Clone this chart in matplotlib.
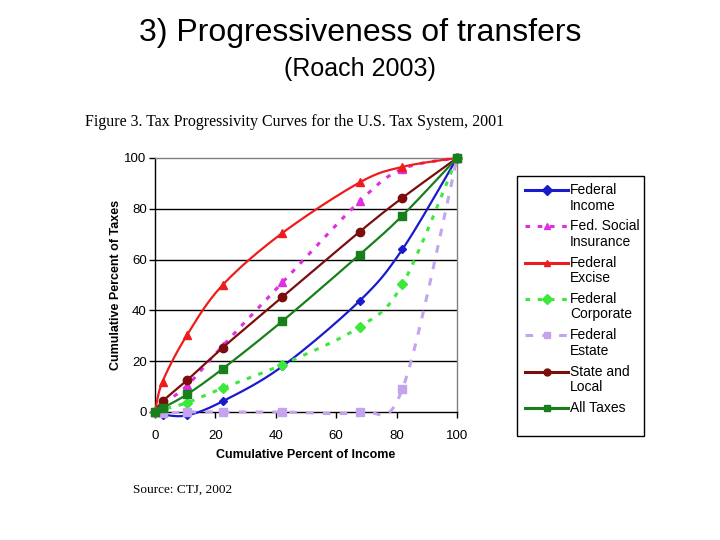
import numpy as np
import matplotlib
matplotlib.use('Agg')
import matplotlib.pyplot as plt
from matplotlib.patches import Rectangle
from matplotlib.lines import Line2D

plt.rcParams['font.family'] = ['Liberation Sans', 'DejaVu Sans']

# cumulative percent of income (groups)
x = [0, 2.5, 10.7, 22.4, 42.2, 67.8, 81.9, 100]

fed_income = [0, -1.0, -1.3, 4.2, 18, 43.8, 64, 100]
fed_social = [0, 3, 10.5, 26, 51, 83, 95.7, 100]
fed_excise = [0, 12, 30.5, 50, 70.5, 90.4, 96.5, 100]
fed_corp = [0, 1, 3.7, 9.4, 18.7, 33.5, 50.2, 100]
fed_estate = [0, -0.5, 0, 0, 0, 0, 9, 100]
state_local = [0, 4.2, 12.6, 25.3, 45.3, 71, 84.3, 100]
all_taxes = [0, 1.6, 7, 17, 35.8, 62, 77.3, 100]

labels = ['Federal\nIncome', 'Fed. Social\nInsurance', 'Federal\nExcise',
          'Federal\nCorporate', 'Federal\nEstate', 'State and\nLocal', 'All Taxes']


def smooth(xs, ys, n=20):
    # catmull-rom style smoothing like the spreadsheet "smoothed line"
    xs = np.asarray(xs, float)
    ys = np.asarray(ys, float)
    px = np.concatenate([[xs[0]], xs, [xs[-1]]])
    py = np.concatenate([[ys[0]], ys, [ys[-1]]])
    ox, oy = [], []
    for i in range(1, len(px) - 2):
        p0 = np.array([px[i - 1], py[i - 1]])
        p1 = np.array([px[i], py[i]])
        p2 = np.array([px[i + 1], py[i + 1]])
        p3 = np.array([px[i + 2], py[i + 2]])
        c1 = p1 + (p2 - p0) / 6
        c2 = p2 - (p3 - p1) / 6
        t = np.linspace(0, 1, n)[:, None]
        pts = ((1 - t) ** 3) * p1 + 3 * ((1 - t) ** 2) * t * c1 + 3 * (1 - t) * t ** 2 * c2 + t ** 3 * p2
        ox.extend(pts[:, 0])
        oy.extend(pts[:, 1])
    return ox, oy


W, H = 720, 540
fig = plt.figure(figsize=(7.2, 5.4), dpi=100)
fig.patch.set_facecolor('white')

fig.text(0.5, 1 - 33 / H, '3) Progressiveness of transfers', ha='center', va='center', fontsize=23)
fig.text(0.5, 1 - 69 / H, '(Roach 2003)', ha='center', va='center', fontsize=18)
fig.text(85 / W, 1 - 122 / H, 'Figure 3. Tax Progressivity Curves for the U.S. Tax System, 2001',
         ha='left', va='center', fontsize=11.5, family=['Liberation Serif'])
fig.text(133 / W, 1 - 490 / H, 'Source: CTJ, 2002', ha='left', va='center',
         fontsize=9.5, family=['Liberation Serif'])

ax = fig.add_axes([155 / W, 1 - 412 / H, 302 / W, 254 / H])

series = [
    (fed_income, '#1a1acc', '-', 'D', 4.5),
    (fed_social, '#e02ee0', (0, (1.5, 2.5)), '^', 6),
    (fed_excise, '#ee1c1c', '-', '^', 6),
    (fed_corp, '#3be83b', (0, (1.5, 2.5)), 'D', 5),
    (fed_estate, '#c4a4ee', (0, (2.5, 3)), 's', 6),
    (state_local, '#7b0d0d', '-', 'o', 6),
    (all_taxes, '#17801a', '-', 's', 6),
]

for ys, col, ls, mk, ms in series:
    sx, sy = smooth(x, ys)
    ax.plot(sx, sy, color=col, linestyle=ls, linewidth=1.6 if ls == '-' else 2.2, clip_on=False, zorder=3)
    ax.plot(x, ys, linestyle='none', marker=mk, color=col, markersize=ms, clip_on=False, zorder=4)

ax.set_xlim(0, 100)
ax.set_ylim(0, 100)
ax.set_xticks([0, 20, 40, 60, 80, 100])
ax.set_yticks([0, 20, 40, 60, 80, 100])
ax.tick_params(axis='both', length=4, width=1, direction='out', labelsize=9.5)
ax.tick_params(axis='x', pad=9)
ax.tick_params(axis='y', pad=2)
for side in ['left', 'bottom']:
    ax.spines[side].set_color('black')
    ax.spines[side].set_linewidth(1)
for side in ['top', 'right']:
    ax.spines[side].set_color('#808080')
    ax.spines[side].set_linewidth(1)
for g in [20, 40, 60, 80]:
    ax.axhline(g, color='black', linewidth=1, zorder=1)

ax.set_xlabel('Cumulative Percent of Income', fontsize=9, fontweight='bold', labelpad=5)
ax.set_ylabel('Cumulative Percent of Taxes', fontsize=9, fontweight='bold', labelpad=2)

# legend drawn by hand: handle sits on the first text line, like the original
fig.add_artist(Rectangle((517 / W, 1 - 436 / H), 127 / W, 260 / H,
                         transform=fig.transFigure, facecolor='white', edgecolor='black',
                         linewidth=1))
for i, ((ys, col, ls, mk, ms), lab) in enumerate(zip(series, labels)):
    yp = 190 + 36.3 * i
    fig.add_artist(Line2D([525 / W, 568 / W], [1 - yp / H, 1 - yp / H], transform=fig.transFigure,
                          color=col, linestyle=ls, linewidth=2.2))
    fig.add_artist(Line2D([546.5 / W], [1 - yp / H], transform=fig.transFigure,
                          color=col, marker=mk, markersize=5))
    first, *rest = lab.split('\n')
    fig.text(570 / W, 1 - yp / H, first, ha='left', va='center', fontsize=10)
    if rest:
        fig.text(570 / W, 1 - (yp + 15.5) / H, rest[0], ha='left', va='center', fontsize=10)

fig.savefig('out.png', dpi=100)
